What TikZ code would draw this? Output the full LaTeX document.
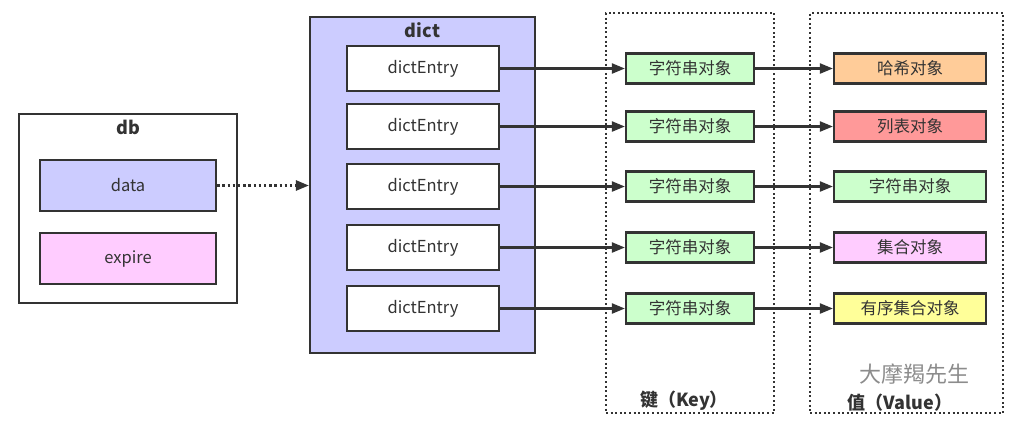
\documentclass[tikz,border=0pt]{standalone}
\usepackage{fontspec}
\setmainfont{Noto Sans CJK SC}
\usetikzlibrary{arrows.meta}
\definecolor{ink}{HTML}{333333}
\definecolor{lav}{HTML}{CCCCFF}
\definecolor{pinkc}{HTML}{FFCCFF}
\definecolor{greenc}{HTML}{CCFFCC}
\definecolor{orangec}{HTML}{FFCC99}
\definecolor{redc}{HTML}{FF9999}
\definecolor{yellowc}{HTML}{FFFF99}
\tikzset{
  box/.style={draw=ink, line width=2.2pt, rectangle, inner sep=0pt, text=ink, font=\fontsize{16.5}{19}\selectfont},
  entry/.style={box, fill=white, minimum width=152pt, minimum height=45pt},
  keyb/.style={box, fill=greenc, minimum width=128pt, minimum height=30pt},
  valb/.style={box, minimum width=152pt, minimum height=30pt},
  dotbox/.style={draw=ink, line width=2.2pt, dash pattern=on 2pt off 2.6pt},
  conn/.style={draw=ink, line width=2.2pt, -{Triangle[length=13pt,width=10pt]}},
  title/.style={text=ink, font=\fontsize{18}{21}\selectfont\bfseries},
}
\begin{document}
\begin{tikzpicture}[x=1pt,y=-1pt]
\useasboundingbox (0,0) rectangle (1009,429);
% db
\node[box, fill=white, minimum width=218pt, minimum height=189pt] (db) at (128,208.5) {};
\node[title] (dbt) at (128,127) {db};
\node[box, fill=lav, minimum width=176pt, minimum height=51pt] (data) at (128,185.5) {data};
\node[box, fill=pinkc, minimum width=176pt, minimum height=51pt] (expire) at (128,258.5) {expire};
% dict
\node[box, fill=lav, minimum width=225pt, minimum height=336pt] (dict) at (422.5,185) {};
\node[title] (dictt) at (422.5,30) {dict};
% dotted columns
\node[dotbox, minimum width=168pt, minimum height=400pt, inner sep=0pt] (keycol) at (690,213) {};
\node[dotbox, minimum width=193pt, minimum height=400pt, inner sep=0pt] (valcol) at (906.5,213) {};
\node[title] (keyt) at (684,401) {键（Key）};
\node[title] (valt) at (900,403) {值（Value）};
% rows
\foreach \i/\y/\vc/\vt in {1/68.5/orangec/哈希对象, 2/126.5/redc/列表对象, 3/186.5/greenc/字符串对象, 4/247.5/pinkc/集合对象, 5/308.5/yellowc/有序集合对象}{
  \node[entry] (e\i) at (423,\y) {dictEntry};
  \node[keyb] (k\i) at (690,\y) {字符串对象};
  \node[valb, fill=\vc] (v\i) at (910,\y) {\vt};
  \draw[conn] (e\i.east) -- (k\i.west);
  \draw[conn] (k\i.east) -- (v\i.west);
}
\draw[draw=ink, line width=2.6pt, dash pattern=on 2.4pt off 2.8pt, -{Triangle[length=13pt,width=10pt]}] (data.east) -- (dict.west |- data.east);
% watermark
\node[text=black!45, font=\fontsize{22}{26}\selectfont] (wm) at (914,374) {大摩羯先生};
\end{tikzpicture}
\end{document}
